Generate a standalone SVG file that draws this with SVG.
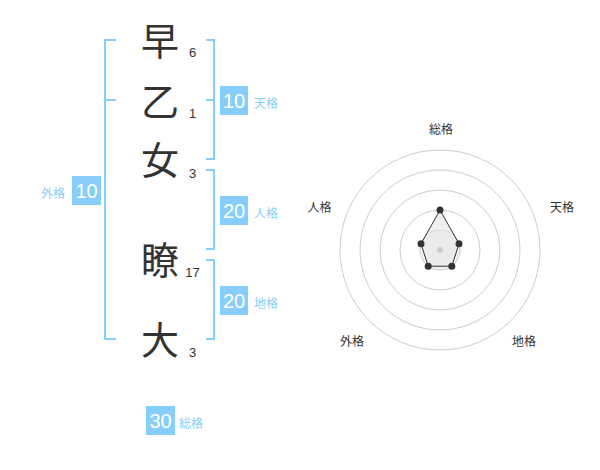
<svg xmlns="http://www.w3.org/2000/svg" width="600" height="470" viewBox="0 0 600 470">
<style>
.k{font-family:"Noto Sans CJK JP","Noto Sans CJK SC",sans-serif;font-size:38px;fill:#333;text-anchor:middle}
.n{font-family:"Liberation Sans",Arial,sans-serif;font-size:13px;fill:#333;text-anchor:middle}
.br{fill:none;stroke:#87cefa;stroke-width:2}
.box{fill:#87cefa}
.bt{font-family:"Liberation Sans",Arial,sans-serif;font-size:20px;fill:#fff;text-anchor:middle}
.bl{font-family:"Noto Sans CJK JP",sans-serif;font-size:12px;fill:#87cefa}
.ring{fill:none;stroke:#ccc;stroke-width:1}
.rl{font-family:"Noto Sans CJK JP",sans-serif;font-size:12px;fill:#333;text-anchor:middle}
.pt{fill:#333}
</style>
<rect width="600" height="470" fill="#fff"/>
<g id="chars">
<g id="c1"><text class="k" x="160" y="55">早</text><text class="n" x="192.5" y="57">6</text></g>
<g id="c2"><text class="k" x="160" y="116">乙</text><text class="n" x="192.5" y="118">1</text></g>
<g id="c3"><text class="k" x="160" y="174">女</text><text class="n" x="192.5" y="178">3</text></g>
<g id="c4"><text class="k" x="160" y="274">瞭</text><text class="n" x="192.5" y="277">17</text></g>
<g id="c5"><text class="k" x="160" y="354">大</text><text class="n" x="192.5" y="357">3</text></g>
</g>
<g id="connectors">
<path class="br" d="M116,40 H105 V339 H116 M105,100 H116"/>
<path class="br" d="M206,40 H214 V159 H206 M206,100 H214"/>
<path class="br" d="M206,170 H214 V249 H206"/>
<path class="br" d="M206,260 H214 V339 H206"/>
</g>
<g id="tenkaku"><rect class="box" x="220" y="86" width="28" height="29"/><text class="bt" x="234" y="108">10</text><text class="bl" x="254" y="108">天格</text></g>
<g id="jinkaku"><rect class="box" x="220" y="196" width="28" height="29"/><text class="bt" x="234" y="218">20</text><text class="bl" x="254" y="218">人格</text></g>
<g id="chikaku"><rect class="box" x="220" y="286" width="28" height="29"/><text class="bt" x="234" y="308">20</text><text class="bl" x="254" y="308">地格</text></g>
<g id="gaikaku"><rect class="box" x="72" y="176" width="29" height="29"/><text class="bt" x="86.5" y="198">10</text><text class="bl" x="41" y="198">外格</text></g>
<g id="soukaku"><rect class="box" x="146" y="406" width="29" height="29"/><text class="bt" x="160.5" y="428">30</text><text class="bl" x="179" y="428">総格</text></g>
<g id="radar">
<circle cx="440" cy="250" r="20" fill="#f2f2f2" stroke="#ccc"/>
<circle class="ring" cx="440" cy="250" r="40"/>
<circle class="ring" cx="440" cy="250" r="60"/>
<circle class="ring" cx="440" cy="250" r="80"/>
<circle class="ring" cx="440" cy="250" r="100"/>
<polygon points="440,210 459,243.8 451.8,266.2 428.2,266.2 421,243.8" fill="#e6e6e6" fill-opacity="0.6" stroke="#333" stroke-width="1"/>
<circle cx="440" cy="250" r="3" fill="#ccc"/>
<circle class="pt" cx="440" cy="210" r="3.5"/>
<circle class="pt" cx="459" cy="243.8" r="3.5"/>
<circle class="pt" cx="451.8" cy="266.2" r="3.5"/>
<circle class="pt" cx="428.2" cy="266.2" r="3.5"/>
<circle class="pt" cx="421" cy="243.8" r="3.5"/>
<text class="rl" x="441" y="134">総格</text>
<text class="rl" x="562" y="212">天格</text>
<text class="rl" x="524" y="346">地格</text>
<text class="rl" x="352" y="346">外格</text>
<text class="rl" x="319.5" y="212">人格</text>
</g>
</svg>
